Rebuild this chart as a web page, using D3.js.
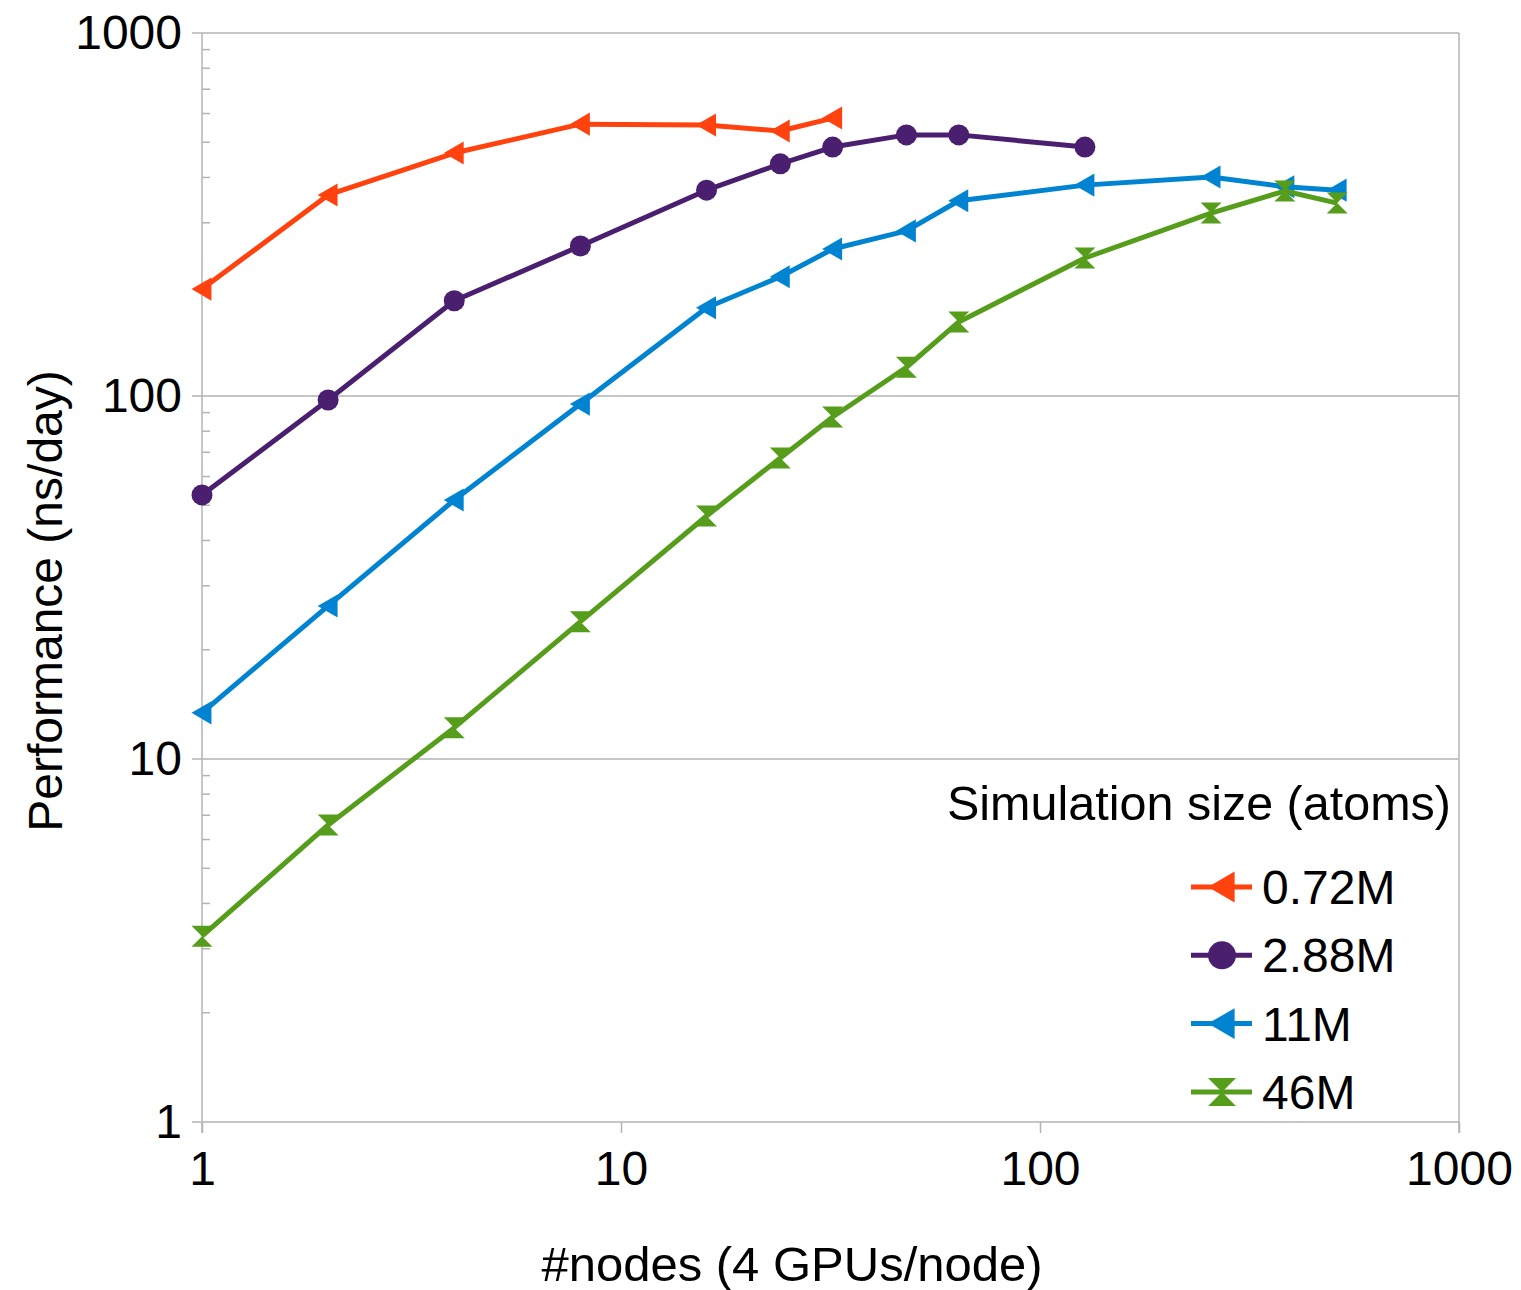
<!DOCTYPE html>
<html>
<head>
<meta charset="utf-8">
<script src="https://cdn.jsdelivr.net/npm/d3@7"></script>
<style>
  body { margin: 0; background: #fff; }
  svg { font-family: "Liberation Sans", Arial, sans-serif; }
</style>
</head>
<body>
<svg id="chart" width="1521" height="1290"></svg>
<script>
// node counts (x) and performance in ns/day (y) for each simulation size
let nodes = [1, 2, 4, 8, 16, 24, 32, 48, 64, 128, 256, 384, 512];
let perf072 = [197, 358, 467, 561, 558, 537, 583];
let perf288 = [53.4, 97.5, 183, 259, 369, 436, 485, 524, 524, 485];
let perf11 = [13.4, 26.4, 51.7, 95, 175, 213, 254, 285, 345, 381, 401, 377, 369];
let perf46 = [3.25, 6.58, 12.2, 23.9, 46.7, 67.5, 87.5, 120, 160, 240, 319, 367, 340];
let seriesNames = ["0.72M", "2.88M", "11M", "46M"];
let xTicks = [1, 10, 100, 1000];
let yTicks = [1, 10, 100, 1000];

let series = [
  { name: seriesNames[0], values: perf072, color: "#ff420e", marker: "tri" },
  { name: seriesNames[1], values: perf288, color: "#4b1f6f", marker: "circle" },
  { name: seriesNames[2], values: perf11, color: "#0084d1", marker: "tri" },
  { name: seriesNames[3], values: perf46, color: "#579d1c", marker: "hourglass" }
];

let margin = { top: 33, left: 202 };
let width = 1257, height = 1089;
let gridColor = "#b3b3b3";

let svg = d3.select("#chart");
let g = svg.append("g").attr("transform", "translate(" + margin.left + "," + margin.top + ")");

let x = d3.scaleLog().domain([1, 1000]).range([0, width]);
let y = d3.scaleLog().domain([1, 1000]).range([height, 0]);

// horizontal gridlines at the decades
g.selectAll(".grid").data(yTicks).enter().append("line")
  .attr("x1", -10).attr("x2", width)
  .attr("y1", d => y(d)).attr("y2", d => y(d))
  .attr("stroke", gridColor).attr("stroke-width", 1.5);

// minor ticks on y (inside)
let minors = [];
[1, 10, 100].forEach(function(dec) {
  for (let k = 2; k <= 9; k++) minors.push(dec * k);
});
g.selectAll(".minor").data(minors).enter().append("line")
  .attr("x1", 0).attr("x2", 8)
  .attr("y1", d => y(d)).attr("y2", d => y(d))
  .attr("stroke", gridColor).attr("stroke-width", 1.5);

// axis lines
g.append("line").attr("x1", 0).attr("x2", 0).attr("y1", 0).attr("y2", height + 11)
  .attr("stroke", gridColor).attr("stroke-width", 1.5);
g.append("line").attr("x1", width).attr("x2", width).attr("y1", 0).attr("y2", height + 11)
  .attr("stroke", gridColor).attr("stroke-width", 1.5);

// x major ticks
let xAxis = g.append("g").attr("transform", "translate(0," + height + ")")
  .call(d3.axisBottom(x).tickValues(xTicks).tickFormat(d3.format("d")).tickSize(11).tickPadding(18));
xAxis.select(".domain").remove();
xAxis.selectAll("line").attr("stroke", gridColor).attr("stroke-width", 1.5);
xAxis.selectAll("text").attr("font-size", 48).attr("fill", "#000")
  .attr("font-family", "Liberation Sans, Arial, sans-serif");

let yAxis = g.append("g")
  .call(d3.axisLeft(y).tickValues(yTicks).tickFormat(d3.format("d")).tickSize(0).tickPadding(20));
yAxis.select(".domain").remove();
yAxis.selectAll("text").attr("font-size", 48).attr("fill", "#000")
  .attr("font-family", "Liberation Sans, Arial, sans-serif");

// axis titles
svg.append("text")
  .attr("x", 792).attr("y", 1281)
  .attr("text-anchor", "middle").attr("font-size", 49)
  .text("#nodes (4 GPUs/node)");
svg.append("text")
  .attr("transform", "translate(62,601) rotate(-90)")
  .attr("text-anchor", "middle").attr("font-size", 48)
  .text("Performance (ns/day)");

function drawMarker(sel, type, color, s) {
  if (type === "circle") {
    sel.append("circle").attr("r", s * 0.5).attr("fill", color);
  } else if (type === "tri") {
    sel.append("path")
      .attr("d", "M" + (-s * 0.5) + ",0L" + (s * 0.45) + "," + (-s * 0.55) + "L" + (s * 0.45) + "," + (s * 0.55) + "Z")
      .attr("fill", color);
  } else {
    let h = s * 0.5;
    sel.append("path")
      .attr("d", "M" + (-h) + "," + (-h) + "L" + h + "," + (-h) + "L0,0L" + h + "," + h + "L" + (-h) + "," + h + "L0,0Z")
      .attr("fill", color);
  }
}

let line = d3.line()
  .x(d => x(d[0]))
  .y(d => y(d[1]));

series.forEach(function(s) {
  let pts = s.values.map((v, i) => [nodes[i], v]);
  g.append("path")
    .datum(pts)
    .attr("fill", "none")
    .attr("stroke", s.color)
    .attr("stroke-width", 5)
    .attr("stroke-linejoin", "round")
    .attr("d", line);
  g.selectAll(null).data(pts).enter().append("g")
    .attr("transform", d => "translate(" + x(d[0]) + "," + y(d[1]) + ")")
    .each(function() { drawMarker(d3.select(this), s.marker, s.color, 21); });
});

// legend
svg.append("text")
  .attr("x", 1451).attr("y", 820)
  .attr("text-anchor", "end").attr("font-size", 48.5)
  .text("Simulation size (atoms)");

let legend = svg.append("g");
series.forEach(function(s, i) {
  let cy = 887 + i * 68.3;
  let item = legend.append("g").attr("transform", "translate(0," + cy + ")");
  item.append("line").attr("x1", 1191).attr("x2", 1252).attr("y1", 0).attr("y2", 0)
    .attr("stroke", s.color).attr("stroke-width", 5);
  let m = item.append("g").attr("transform", "translate(1222,0)");
  drawMarker(m, s.marker, s.color, 28);
  item.append("text").attr("x", 1262).attr("y", 17)
    .attr("font-size", 48).text(s.name);
});
</script>
</body>
</html>
